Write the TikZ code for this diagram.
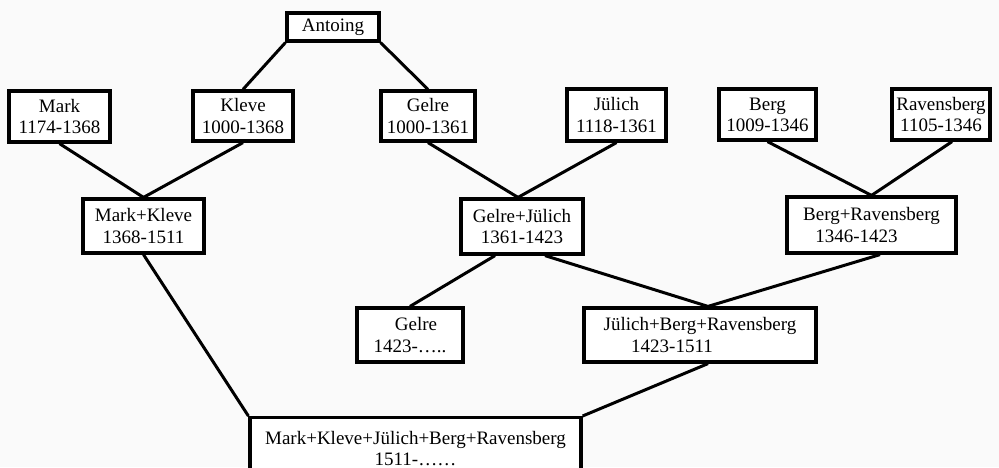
\documentclass[tikz,border=0pt]{standalone}
\usepackage{fontspec}
\setmainfont{Liberation Serif}
\usetikzlibrary{calc}
\begin{document}
\begin{tikzpicture}[x=0.5pt,y=-0.5pt,
  box/.style={draw, line width=1.6pt, fill=white, inner sep=0pt, align=center,
    font=\fontsize{9.5}{10.6}\selectfont},
  link/.style={line width=1.5pt}]
\useasboundingbox (0,0) rectangle (999,467);
\fill[gray!4] (0,0) rectangle (999,467);
\clip (0,0) rectangle (999,467);
% top row
\node[box, minimum width=46pt, minimum height=14pt] (antoing) at (333,27) {Antoing};
\node[box, minimum width=50.5pt, minimum height=25.5pt] (mark) at (59.5,116.5) {Mark\\1174-1368};
\node[box, minimum width=50pt, minimum height=25pt] (kleve) at (243,116) {Kleve\\1000-1368};
\node[box, minimum width=47pt, minimum height=25pt] (gelre) at (428,116) {Gelre\\1000-1361};
\node[box, minimum width=49.5pt, minimum height=26pt] (julich) at (616.5,115) {Jülich\\1118-1361};
\node[box, minimum width=48.5pt, minimum height=25.5pt] (berg) at (767.5,114.5) {Berg\\1009-1346};
\node[box, minimum width=49pt, minimum height=25.5pt] (rav) at (941,114.5) {Ravensberg\\1105-1346};
% second row
\node[box, minimum width=60.5pt, minimum height=27pt] (mk) at (143.5,226) {Mark+Kleve\\1368-1511};
\node[box, minimum width=61pt, minimum height=27.5pt] (gj) at (522,226.5) {Gelre+Jülich\\1361-1423};
\node[box, minimum width=84.5pt, minimum height=28pt] (br) at (871.5,225) {Berg+Ravensberg\\1346-1423\hspace*{15pt}};
% third row
\node[box, minimum width=53pt, minimum height=27pt] (gelretwo) at (410,335) {Gelre\hspace*{-6pt}\\1423-\ldots..};
\node[box, minimum width=116pt, minimum height=27pt] (jbr) at (700,335) {Jülich+Berg+Ravensberg\\1423-1511\hspace*{28pt}};
% bottom
\node[box, anchor=north, minimum width=165.5pt, minimum height=31pt] (final) at (415.5,416) {Mark+Kleve+Jülich+Berg+Ravensberg\\1511-\ldots\ldots};
% connectors
\draw[link] (antoing.south west) -- (kleve.north);
\draw[link] (antoing.south east) -- (gelre.north);
\draw[link] (mark.south) -- (mk.north);
\draw[link] (kleve.south) -- (mk.north);
\draw[link] (gelre.south) -- ([xshift=-2pt]gj.north);
\draw[link] (julich.south) -- ([xshift=-2pt]gj.north);
\draw[link] (berg.south) -- (br.north);
\draw[link] ([xshift=5.5pt]rav.south) -- (br.north);
\draw[link] ([xshift=-13.5pt]gj.south) -- (gelretwo.north);
\draw[link] ([xshift=11.5pt]gj.south) -- ([xshift=4pt]jbr.north);
\draw[link] ([xshift=4.25pt]br.south) -- ([xshift=4pt]jbr.north);
\draw[link] (mk.south) -- (final.north west);
\draw[link] ([xshift=4pt]jbr.south) -- (final.north east);
\end{tikzpicture}
\end{document}
